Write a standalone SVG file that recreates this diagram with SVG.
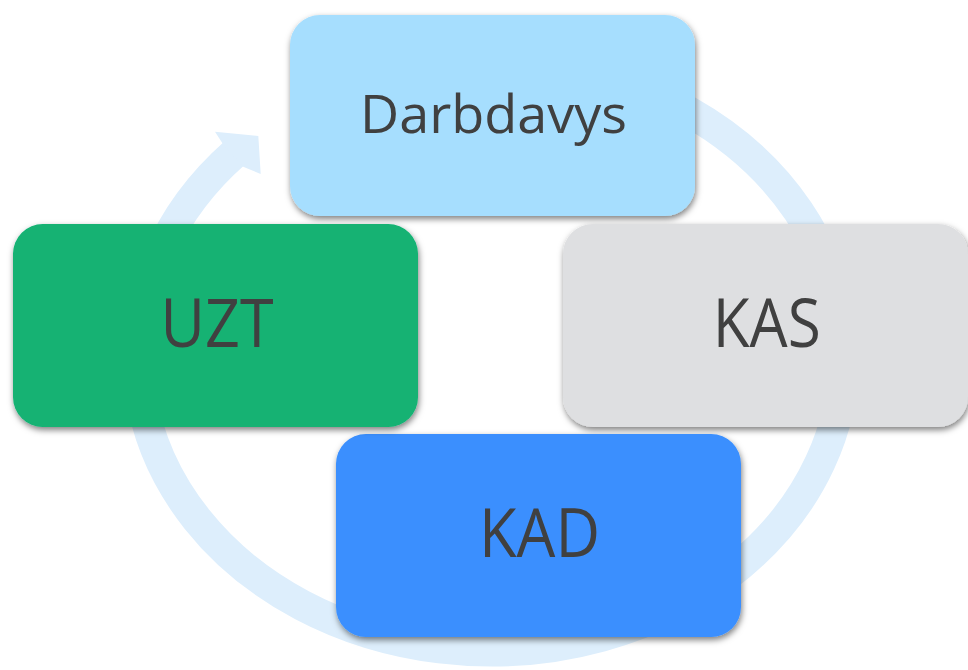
<svg xmlns="http://www.w3.org/2000/svg" width="968" height="670" viewBox="0 0 968 670">
  <defs>
    <filter id="shadow" x="-10%" y="-10%" width="120%" height="125%">
      <feDropShadow dx="1" dy="3" stdDeviation="3" flood-color="#000000" flood-opacity="0.5"/>
    </filter>
  </defs>
  <style>
    .ring { fill: none; stroke: #DDEEFC; stroke-width: 31; }
    .head { fill: #DDEEFC; stroke: none; }
    .box { filter: url(#shadow); }
    .label { font-family: "Open Sans", "Noto Sans", "Liberation Sans", sans-serif; fill: #404040; text-anchor: middle; }
    .big { font-size: 67px; }
    .small { font-size: 53px; }
  </style>
  <rect x="0" y="0" width="968" height="670" fill="#FFFFFF"/>
  <g id="connectors">
    <path class="ring" d="M 552.3 65.5 A 353 295 0 1 1 234.9 152.9"/>
    <polygon class="head" points="222.6,143.6 215,131.7 258.3,136 260.7,174 243.2,166.7"/>
  </g>
  <g id="node-darbdavys">
    <rect class="box" x="290" y="15" width="405" height="201" rx="30" ry="30" fill="#A6DEFE"/>
    <text class="label small" x="493.5" y="133" textLength="267" lengthAdjust="spacingAndGlyphs">Darbdavys</text>
  </g>
  <g id="node-kas">
    <rect class="box" x="563" y="224" width="405" height="203" rx="30" ry="30" fill="#DEDFE1"/>
    <text class="label big" x="766.7" y="347" textLength="108" lengthAdjust="spacingAndGlyphs">KAS</text>
  </g>
  <g id="node-kad">
    <rect class="box" x="336" y="434" width="405" height="203" rx="30" ry="30" fill="#3A8FFE"/>
    <text class="label big" x="539.5" y="557" textLength="121" lengthAdjust="spacingAndGlyphs">KAD</text>
  </g>
  <g id="node-uzt">
    <rect class="box" x="13" y="224" width="405" height="203" rx="30" ry="30" fill="#12B273"/>
    <text class="label big" x="217" y="347" textLength="113" lengthAdjust="spacingAndGlyphs">UZT</text>
  </g>
</svg>
